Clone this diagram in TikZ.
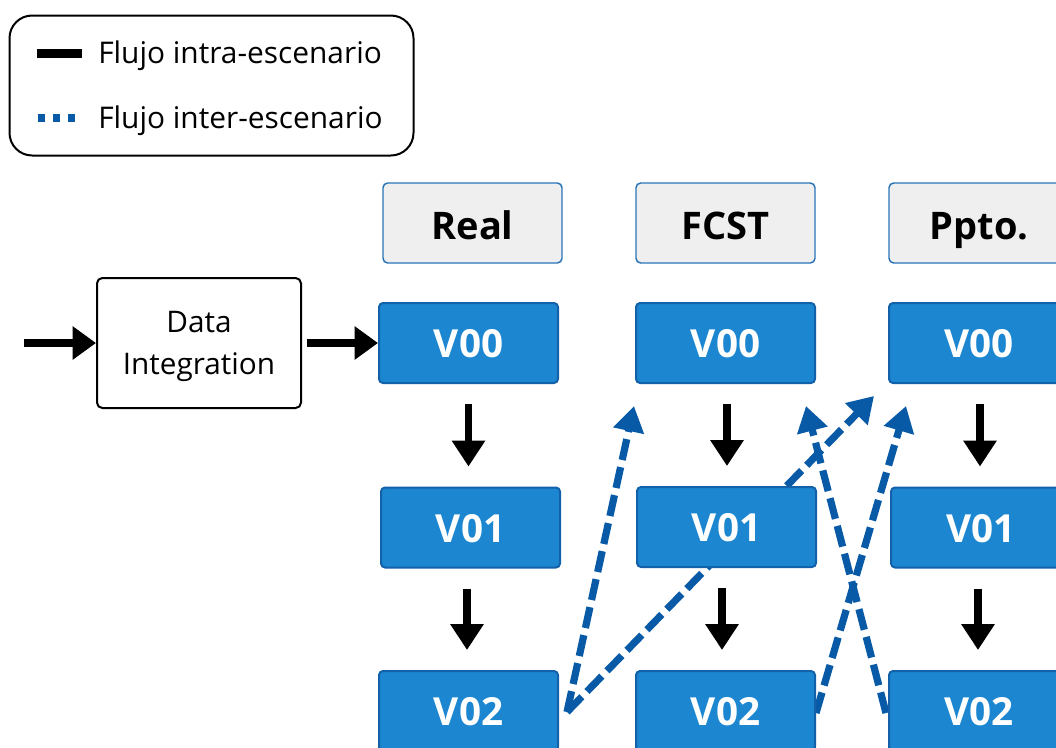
\documentclass[tikz,border=0pt]{standalone}
\usepackage{fontspec}
\setmainfont{Open Sans}
\usetikzlibrary{arrows.meta,calc}
\pgfdeclarelayer{bg}
\pgfsetlayers{bg,main}
\definecolor{vfill}{HTML}{1C87D0}
\definecolor{vborder}{HTML}{1361AA}
\definecolor{hfill}{HTML}{EFEFEF}
\definecolor{hborder}{HTML}{2A74B8}
\definecolor{dblue}{HTML}{085AA6}
\begin{document}
\begin{tikzpicture}[x=0.75pt,y=-0.75pt,
  vbox/.style={draw=vborder, line width=1.5pt, fill=vfill, rounded corners=3pt,
    minimum width=134.25pt, minimum height=60pt, inner sep=0pt, text=white,
    text height=22pt, text depth=0pt, font=\bfseries\fontsize{29}{34}\selectfont},
  hbox/.style={draw=hborder, line width=1.1pt, fill=hfill, rounded corners=3.5pt,
    minimum width=134.25pt, minimum height=60pt, inner sep=0pt,
    text height=24pt, text depth=0pt, font=\bfseries\fontsize{28.5}{34}\selectfont},
  dibox/.style={draw=black, line width=1.5pt, fill=white, rounded corners=4pt,
    minimum width=153pt, minimum height=97.5pt, inner sep=0pt},
  ditext/.style={align=center, inner sep=0pt, font=\fontsize{22.3}{31.5}\selectfont},
  legbox/.style={draw=black, line width=1.5pt, fill=white, rounded corners=17pt,
    minimum width=303pt, minimum height=105pt, inner sep=0pt},
  legtext/.style={anchor=base west, inner sep=0pt, font=\fontsize{22.4}{26}\selectfont},
  blk/.style={line width=5.5pt, -{Triangle[length=19.5pt,width=24pt]}},
  inarr/.style={line width=6pt, -{Triangle[length=17.5pt,width=24pt]}},
  blu/.style={draw=dblue, line width=5.4pt, dash pattern=on 16pt off 5.5pt,
    -{Triangle[length=19pt,width=22.5pt]}}
]
\useasboundingbox (0,0) rectangle (1056,747);
\clip (0,0) rectangle (1056,747);

% legend
\node[legbox] (leg) at (211.5,85.5) {};
\coordinate (l1a) at (37,53.5);
\coordinate (l1b) at (81.5,53.5);
\draw[line width=6.3pt] (l1a) -- (l1b);
\coordinate (l2a) at (37.7,118);
\coordinate (l2b) at (77,118);
\draw[dblue, line width=5.4pt, dash pattern=on 5.4pt off 6pt] (l2a) -- (l2b);
\node[legtext] (t1) at (98,63.3) {Flujo intra-escenario};
\node[legtext] (t2) at (98,128.3) {Flujo inter-escenario};

% headers
\node[hbox] (hr) at (472.5,223) {Real};
\node[hbox] (hf) at (725.5,223) {FCST};
\node[hbox, minimum width=135pt] (hp) at (979,223) {Ppto.};

% data integration
\node[dibox] (di) at (199,343) {};
\node[ditext] (dit) at (199,346.5) {Data\\Integration};

% version boxes
\node[vbox] (r0) at (468.5,343) {V00};
\node[vbox] (f0) at (725.5,343) {V00};
\node[vbox, minimum width=135pt] (p0) at (979,343) {V00};
\node[vbox] (r1) at (470.5,527.5) {V01};
\node[vbox] (f1) at (726.5,527) {V01};
\node[vbox, minimum width=135pt] (p1) at (981,527.5) {V01};
\node[vbox] (r2) at (468.5,711) {V02};
\node[vbox] (f2) at (725.5,711) {V02};
\node[vbox, minimum width=135pt] (p2) at (979,711) {V02};

% input / output arrows
\coordinate (in) at (24,343);
\draw[inarr] (in) -- (di.west);
\draw[inarr, shorten <=3.75pt] (di.east) -- (r0.west);

% intra-scenario arrows
\draw[blk, shorten <=15pt, shorten >=15pt] (r0.south) -- (r0.south |- r1.north);
\draw[blk, shorten <=15pt, shorten >=15pt] ($(f0.south)+(1.5,0)$) -- ($(f0.south |- f1.north)+(1.5,0)$);
\draw[blk, shorten <=15pt, shorten >=15pt] ($(p0.south)+(1,0)$) -- ($(p0.south |- p1.north)+(1,0)$);
\draw[blk, shorten <=15pt, shorten >=15pt] ($(r1.south)+(-3.5,0)$) -- ($(r1.south |- r2.north)+(-3.5,0)$);
\draw[blk, shorten <=15pt, shorten >=15pt] ($(f1.south)+(-4.5,0)$) -- ($(f1.south |- f2.north)+(-4.5,0)$);
\draw[blk, shorten <=15pt, shorten >=15pt] ($(p1.south)+(-3,0)$) -- ($(p1.south |- p2.north)+(-3,0)$);

% inter-scenario arrows (behind boxes)
\coordinate (a1s) at ($(r2.east)+(8,1)$);
\coordinate (a1e) at ($(f0.south west)+(-1,22)$);
\coordinate (a2e) at ($(p0.south west)+(-14,12)$);
\coordinate (a3s) at ($(f2.east)+(0,2)$);
\coordinate (a3e) at ($(p0.south west)+(18,22)$);
\coordinate (a4s) at ($(p2.west)+(-2,2)$);
\coordinate (a4e) at ($(f0.south east)+(-10,22)$);
\begin{pgfonlayer}{bg}
\draw[blu] (a1s) -- (a1e);
\draw[blu] (a1s) -- (a2e);
\draw[blu] (a3s) -- (a3e);
\draw[blu] (a4s) -- (a4e);
\end{pgfonlayer}
\end{tikzpicture}
\end{document}
